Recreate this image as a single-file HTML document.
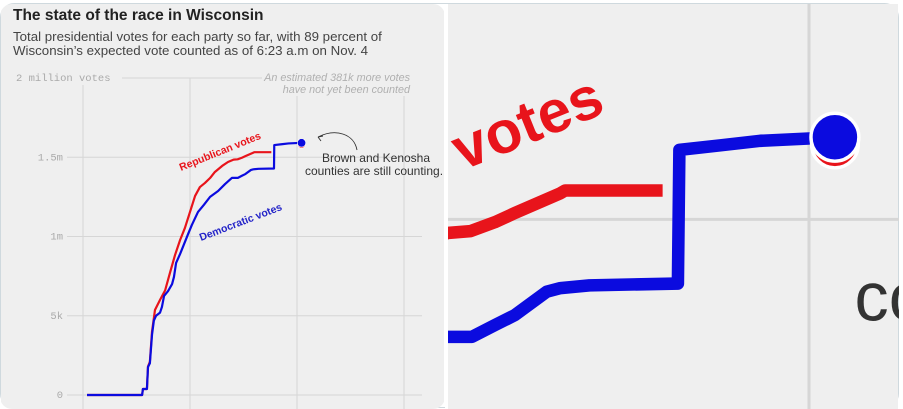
<!DOCTYPE html>
<html><head><meta charset="utf-8">
<style>
html,body{margin:0;padding:0;background:#fff;width:903px;height:409px;overflow:hidden}
svg{display:block}
</style></head>
<body>
<svg id="chart" width="903" height="409" viewBox="0 0 903 409" xmlns="http://www.w3.org/2000/svg" style="font-family:'Liberation Sans',sans-serif">
<defs>
<clipPath id="clipL"><rect x="0" y="4" width="445" height="405" rx="12"/></clipPath>
<clipPath id="clipR"><rect x="448" y="4" width="451" height="405"/></clipPath>
</defs>
<rect x="0.5" y="3.5" width="898" height="404" rx="14" fill="#fff" stroke="#cfd9de"/>
<rect x="1" y="4" width="443" height="405" fill="#efefef" clip-path="url(#clipL)"/>
<rect x="448" y="4" width="450" height="405" fill="#efefef"/>
<g id="left" clip-path="url(#clipL)"></g>
<g clip-path="url(#clipR)"><g id="right"></g></g>
<rect x="445" y="4" width="3" height="405" fill="#fff"/>
</svg>
<script>
// time in hours since first gridline; values in millions of votes
const demT = [0.15,2.21,2.24,2.39,2.43,2.50,2.58,2.65,2.73,2.88,2.95,3.03,3.18,3.33,3.40,3.48,3.63,3.78,3.93,4.07,4.30,4.52,4.75,5.05,5.31,5.57,5.79,5.94,6.07,6.28,6.37,6.56,7.14,7.15,7.42,7.68,8.17];
const demV = [0,0,0.038,0.038,0.177,0.20,0.38,0.47,0.50,0.52,0.555,0.625,0.656,0.70,0.745,0.833,0.89,0.953,1.016,1.073,1.155,1.20,1.25,1.287,1.331,1.370,1.370,1.383,1.394,1.42,1.424,1.427,1.429,1.577,1.582,1.587,1.591];
const repT = [0.15,2.21,2.24,2.39,2.43,2.50,2.58,2.69,2.88,3.07,3.25,3.44,3.63,3.81,4.00,4.19,4.37,4.56,4.75,4.93,5.20,5.42,5.63,5.78,5.94,6.07,6.37,6.40,7.04];
const repV = [0,0,0.038,0.038,0.18,0.21,0.40,0.536,0.60,0.66,0.77,0.883,0.978,1.054,1.155,1.256,1.312,1.338,1.369,1.407,1.445,1.47,1.485,1.487,1.497,1.507,1.529,1.532,1.532];
const repLast = 1.583;
const yTicks = [0,0.5,1,1.5,2];
const yTickLabels = ["0","5k","1m","1.5m","2 million votes"];
const xGrid = [0,4,8,12];

const X = t => 83 + 26.75*t;
const Y = v => 395 - 158.5*v;
const NS = "http://www.w3.org/2000/svg";
function mk(tag, attrs, parent){const e=document.createElementNS(NS,tag);for(const k in attrs)e.setAttribute(k,attrs[k]);parent.appendChild(e);return e;}

function draw(g, zoom){
  const sw = zoom ? 3/5.7 : 1;
  yTicks.forEach((v,i)=>{
    const y=Y(v);
    const x1 = i===4 ? 122 : 67, x2 = i===4 ? 262 : 422;
    const l=mk('line',{x1:x1,x2:x2,y1:y,y2:y,stroke:'#d6d6d6','stroke-width':sw},g);
    
    
    const t=mk('text',{x:i===4?16:63,y:y+3,'text-anchor':i===4?'start':'end','font-size':10.5,fill:'#aaa',style:'font-family:"Liberation Mono",monospace'},g);
    t.textContent=yTickLabels[i];
    
    
  });
  xGrid.forEach((t,i)=>{
    const x=X(t);
    const l=mk('line',{x1:x,x2:x,y1:i===0?85:(i===1?78:96),y2:409,stroke:'#d6d6d6','stroke-width':sw},g);
    
    
  });
  const pts=(T,V)=>T.map((t,i)=>X(t).toFixed(2)+','+Y(V[i]).toFixed(2)).join(' ');
  const rep=mk('polyline',{points:pts(repT,repV),fill:'none',stroke:'#e8141b','stroke-width':2.2,'stroke-linejoin':'round'},g);
  
  
  const dem=mk('polyline',{points:pts(demT,demV),fill:'none',stroke:'#0b0bdf','stroke-width':2.2,'stroke-linejoin':'round'},g);
  
  
  const lt=demT[demT.length-1];
  const rd=mk('circle',{cx:X(lt),cy:Y(repLast),r:4.1,fill:'#e8141b',stroke:'#fff','stroke-width':0.6},g);
  
  
  const bd=mk('circle',{cx:X(lt),cy:Y(demV[demV.length-1]),r:4.2,fill:'#0b0bdf',stroke:'#fff','stroke-width':0.6},g);
  
  
  const rl=mk('text',{x:181,y:171,transform:'rotate(-22 181 171)','font-size':10.5,'font-weight':'bold',fill:'#e8141b'},g);
  rl.textContent='Republican votes';
  
  
  const dl=mk('text',{x:201,y:241,transform:'rotate(-21 201 241)','font-size':10.5,'font-weight':'bold',fill:'#2323c8'},g);
  dl.textContent='Democratic votes';
  
  
  const n1=mk('text',{x:376,y:162,'text-anchor':'middle','font-size':12,fill:'#333'},g);
  n1.textContent='Brown and Kenosha';
  
  
  const n2=mk('text',{x:374,y:175,'text-anchor':'middle','font-size':12,fill:'#333'},g);
  n2.textContent='counties are still counting.';
  
  
  const ar=mk('path',{d:'M357,150 C354,134 336,128 318,137 M318,137 l5,-1 M318,137 l3,4',fill:'none',stroke:'#333','stroke-width':0.9},g);
  
  
  const e1=mk('text',{x:410,y:81,'text-anchor':'end','font-size':10.8,'font-style':'italic',fill:'#b0b0b0'},g);
  e1.textContent='An estimated 381k more votes';
  
  
  const e2=mk('text',{x:410,y:93,'text-anchor':'end','font-size':10.8,'font-style':'italic',fill:'#b0b0b0'},g);
  e2.textContent='have not yet been counted';
  
  
}
const L=document.getElementById('left');
draw(L,false);
const t1=mk('text',{x:13,y:20,'font-size':15.5,'font-weight':'bold',fill:'#222'},L);
t1.textContent='The state of the race in Wisconsin';


const s1=mk('text',{x:13,y:41,'font-size':13.3,fill:'#444'},L);
s1.textContent='Total presidential votes for each party so far, with 89 percent of';


const s2=mk('text',{x:13,y:55,'font-size':13.3,fill:'#444'},L);
s2.textContent='Wisconsin\u2019s expected vote counted as of 6:23 a.m on Nov. 4';


const R=document.getElementById('right');
const k=5.7;
R.setAttribute('transform','translate('+(809-297*k)+','+(218-157*k)+') scale('+k+')');


draw(R,true);
</script>
</body></html>
